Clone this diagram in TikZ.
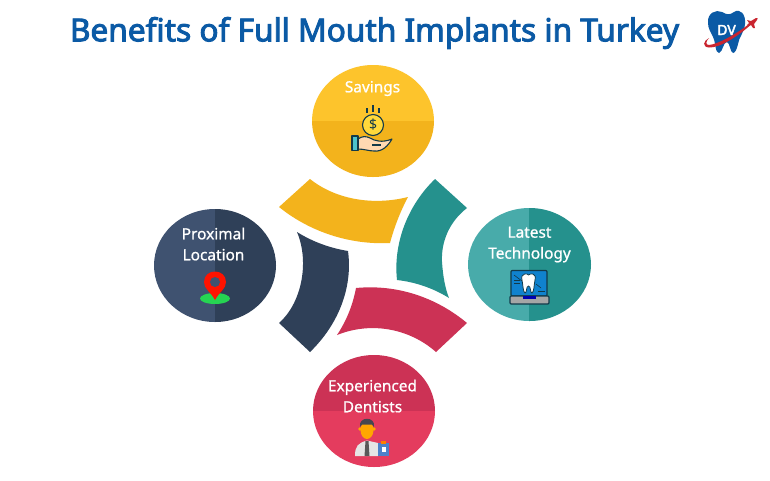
\documentclass[tikz,border=0pt]{standalone}
\usepackage{fontspec}
\setmainfont{Noto Sans}
\newfontfamily\titlefont[FakeBold=3]{Noto Sans}
\newfontfamily\labelfont[FakeBold=0.9]{Noto Sans}
\definecolor{titleblue}{HTML}{0B5AA5}
\definecolor{logored}{HTML}{C9252F}
\definecolor{yellowlight}{HTML}{FDC42C}
\definecolor{yellowdark}{HTML}{F3B31C}
\definecolor{teallight}{HTML}{48ABAA}
\definecolor{tealdark}{HTML}{25918D}
\definecolor{navylight}{HTML}{3F5270}
\definecolor{navydark}{HTML}{2F4058}
\definecolor{redlight}{HTML}{E43C5E}
\definecolor{reddark}{HTML}{CC3255}
\definecolor{icondark}{HTML}{123A4A}
\definecolor{hairgray}{HTML}{474750}
\definecolor{coinyellow}{HTML}{FFD93B}
\tikzset{
  label/.style={font=\labelfont\fontsize{15.4}{21}\selectfont, text=white, align=center, inner sep=0pt},
  icon/.style={draw=icondark, line width=1.1pt, line join=round},
}
\begin{document}
\begin{tikzpicture}[x=1pt,y=-1pt]
\useasboundingbox (0,0) rectangle (770,480);
\fill[white] (0,0) rectangle (770,480);
% draw title
\node[font=\titlefont\fontsize{31.6}{36}\selectfont, text=titleblue, inner sep=0pt] (title) at (374.5,33) {Benefits of Full Mouth Implants in Turkey};
% draw logo
\fill[titleblue] (708,23) .. controls (707,13) and (716,9) .. (722,12) .. controls (727,15) and (730,15) .. (734,12) .. controls (740,8) and (746,14) .. (745,24) .. controls (744,33) and (739,37) .. (738,44) .. controls (737,49) and (735,53) .. (733,53) .. controls (730,52) and (730,43) .. (727,42) .. controls (723,42) and (723,52) .. (719,53) .. controls (715,53) and (716,43) .. (713,37) .. controls (711,32) and (708,29) .. (708,23);
\node[font=\titlefont\fontsize{14}{14}\selectfont, text=white, inner sep=0pt] (logotext) at (726.5,30) {DV};
\fill[logored] (749,24) .. controls (735,35) and (718,44) .. (709,45) .. controls (705,45) and (706,41) .. (709,38) .. controls (703,41) and (702,47) .. (709,47.5) .. controls (720,48) and (738,36) .. (750,25.5) -- cycle;
\fill[logored] (747,20) -- (751,21) -- (756,18) .. controls (758,17) and (758,19) .. (757,20) -- (754,24) -- (755,28) -- (753,28) -- (751,25) -- (749,26) -- (747,25) -- (749,23) -- cycle;
% draw savings circle
\begin{scope}
\clip (373,121) ellipse [x radius=61, y radius=56];
\fill[yellowlight] (300,60) rectangle (440,121);
\fill[yellowdark] (300,121) rectangle (440,180);
\end{scope}
\node[label] (savings) at (372.5,88.5) {Savings};
% draw technology circle
\begin{scope}
\clip (529.5,264.5) ellipse [x radius=61.5, y radius=56.5];
\fill[teallight] (460,200) rectangle (529,330);
\fill[tealdark] (529,200) rectangle (600,330);
\end{scope}
\node[label] (technology) at (529.5,244.5) {Latest\\Technology};
% draw location circle
\begin{scope}
\clip (215,265.5) ellipse [x radius=61, y radius=56.5];
\fill[navylight] (150,200) rectangle (215,330);
\fill[navydark] (215,200) rectangle (280,330);
\end{scope}
\node[label] (location) at (213.5,244) {Proximal\\Location};
% draw dentists circle
\begin{scope}
\clip (374,411) ellipse [x radius=61, y radius=56];
\fill[reddark] (310,350) rectangle (440,411);
\fill[redlight] (310,411) rectangle (440,470);
\end{scope}
\node[label] (dentists) at (372.5,396) {Experienced\\Dentists};
% draw arc segments
\fill[yellowdark] (310,179) .. controls (335,199) and (372,206) .. (408,197) .. controls (400,212) and (394,228) .. (390,243) .. controls (350,245) and (310,232) .. (279,207) -- cycle;
\fill[tealdark] (435,179) -- (467,208) .. controls (449,222) and (441,242) .. (442,262) .. controls (443,276) and (445,288) .. (449,298) .. controls (433,288) and (415,282) .. (397,280) .. controls (393,243) and (408,205) .. (435,179) -- cycle;
\fill[reddark] (356,288) .. controls (398,284) and (437,298) .. (467,323) -- (436,352) .. controls (410,329) and (372,321) .. (337,335) .. controls (347,320) and (353,304) .. (356,288) -- cycle;
\fill[navydark] (297,232) .. controls (313,242) and (330,248) .. (348,251) .. controls (353,288) and (338,325) .. (310,352) -- (279,323) .. controls (301,304) and (310,263) .. (297,232) -- cycle;
% draw coin and hand
\filldraw[icon, fill=coinyellow] (373,125) circle [radius=10.5];
\node[font=\fontsize{14}{14}\selectfont, text=icondark, inner sep=0pt] (dollar) at (373,125) {\$};
\draw[icon] (373,105) -- (373,112);
\draw[icon] (367,108) -- (367,113);
\draw[icon] (379,108) -- (379,113);
\filldraw[icon, fill=orange!30!white] (358,139) .. controls (362,136) and (366,136) .. (370,138) .. controls (375,141) and (382,143) .. (392,139) .. controls (388,146) and (382,152) .. (374,151) .. controls (369,151) and (364,149) .. (358,149) -- cycle;
\draw[icon] (372,145) -- (381,145);
\filldraw[icon, fill=cyan!70!green!70!white] (352,136) rectangle (358,150.5);
% draw laptop and tooth
\filldraw[icon, fill=cyan!65!blue, rounded corners=1pt] (511,270.5) rectangle (547,296);
\filldraw[icon, fill=gray!70!white, rounded corners=1pt] (510,296) rectangle (549,304);
\fill[blue!70!black] (523,296) rectangle (536,299);
\draw[icon, line width=0.6pt] (514,275) -- (522,281);
\draw[icon, line width=0.6pt] (514,280) -- (520,280);
\draw[icon, line width=0.6pt] (514,283) -- (520,283);
\draw[icon, line width=0.6pt] (536,284) -- (541,288);
\draw[icon, line width=0.6pt] (538,291) -- (545,291);
\filldraw[icon, fill=white, line width=0.8pt] (522,280) .. controls (520,273) and (528,273) .. (528.5,275) .. controls (530,273) and (537,273) .. (535,280) .. controls (534,285) and (534,292) .. (532,293) .. controls (530,293) and (531,286) .. (528.5,286) .. controls (526,286) and (527,293) .. (525,293) .. controls (523,292) and (523,285) .. (522,280) -- cycle;
% draw map pin
\fill[green!60!teal!85!white] (215,298.5) ellipse [x radius=15, y radius=5.5];
\fill[red!85!orange] (215,300) .. controls (210,291) and (204,289) .. (204,282) .. controls (204,268) and (226,268) .. (226,282) .. controls (226,289) and (220,291) .. (215,300) -- cycle;
\fill[navylight] (215,282) circle [radius=5];
% draw dentist
\fill[gray!20!white] (355,456) .. controls (355,446) and (358,443) .. (367,440.5) -- (378,443) -- (378,456) -- cycle;
\fill[gray!70!black] (365.5,441) -- (368.5,441) -- (369.5,456) -- (364.5,456) -- cycle;
\fill[orange!70!yellow] (360,429) circle [radius=1.8];
\fill[orange!70!yellow] (374,429) circle [radius=1.8];
\fill[orange!70!yellow] (367,430) ellipse [x radius=6.5, y radius=9];
\fill[hairgray] (360,427) .. controls (358,416) and (376,416) .. (374,427) -- (372,424.5) -- (362,424.5) -- cycle;
\fill[cyan!45!blue!75!white] (378,443) rectangle (389,456);
\fill[orange] (381,441) rectangle (386,444);
\fill[white] (381.5,447) rectangle (385.5,452);
\end{tikzpicture}
\end{document}
